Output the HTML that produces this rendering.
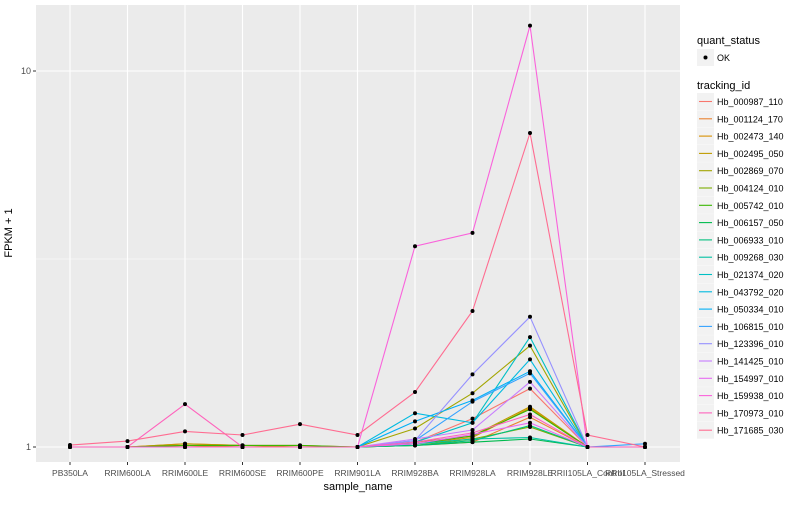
<!DOCTYPE html>
<html><head><meta charset="utf-8"><style>
body{margin:0;background:#fff;font-family:"Liberation Sans",sans-serif}
svg text{font-family:"Liberation Sans",sans-serif}
</style></head><body>
<svg id="chart" width="800" height="500" xmlns="http://www.w3.org/2000/svg">
<rect x="0" y="0" width="800" height="500" fill="#fff"/>
<rect x="36" y="5" width="644" height="457" fill="#ebebeb"/>
<g id="grid"></g>
<g id="lines"></g>
<g id="points"></g>
<g id="axes"></g>
<text x="12" y="233" font-size="11" fill="#000" text-anchor="middle" transform="rotate(-90 12 233)">FPKM + 1</text>
<text x="358" y="490" font-size="11" fill="#000" text-anchor="middle">sample_name</text>
<g id="legend">
<text x="697" y="44" font-size="11" fill="#000">quant_status</text>
<rect x="697" y="49" width="17" height="17" fill="#f2f2f2"/>
<circle cx="705.5" cy="57.5" r="2" fill="#000"/>
<text x="717" y="61" font-size="9" fill="#000">OK</text>
<text x="697" y="89" font-size="11" fill="#000">tracking_id</text>
<g id="legend-items"></g>
</g>
</svg>
<script>
const categories = ["PB350LA","RRIM600LA","RRIM600LE","RRIM600SE","RRIM600PE","RRIM901LA","RRIM928BA","RRIM928LA","RRIM928LE","RRII105LA_Control","RRII105LA_Stressed"];
const seriesIds = ["Hb_000987_110","Hb_001124_170","Hb_002473_140","Hb_002495_050","Hb_002869_070","Hb_004124_010","Hb_005742_010","Hb_006157_050","Hb_006933_010","Hb_009268_030","Hb_021374_020","Hb_043792_020","Hb_050334_010","Hb_106815_010","Hb_123396_010","Hb_141425_010","Hb_154997_010","Hb_159938_010","Hb_170973_010","Hb_171685_030"];
const seriesColors = ["#F8766D","#EA8331","#D89000","#C09B00","#A3A500","#7CAE00","#39B600","#00BB4E","#00BF7D","#00C1A3","#00BFC4","#00BAE0","#00B0F6","#35A2FF","#9590FF","#C77CFF","#E76BF3","#FA62DB","#FF62BC","#FF6C91"];
const seriesValues = [
[1,1,1.01,1,1,1,1.03,1.19,1.43,1,1],
[1,1,1.02,1.01,1.01,1,1.01,1.03,1.20,1,1],
[1,1,1.01,1,1,1,1.02,1.06,1.27,1,1],
[1,1,1.02,1.01,1,1,1.03,1.07,1.28,1,1],
[1,1,1,1,1,1,1.12,1.39,1.86,1,1],
[1,1,1,1,1,1,1.01,1.05,1.13,1,1],
[1,1,1.01,1.01,1.01,1,1.02,1.07,1.26,1,1],
[1,1,1,1,1,1,1.01,1.03,1.05,1,1],
[1,1,1,1,1,1,1.01,1.04,1.14,1,1],
[1,1,1,1,1,1,1.02,1.05,1.06,1,1],
[1,1,1,1,1,1,1.03,1.16,1.96,1,1],
[1,1,1,1,1,1,1.23,1.16,1.71,1,1],
[1,1,1,1,1,1,1.17,1.33,1.59,1,1],
[1,1,1,1,1,1,1.04,1.32,1.57,1,1.02],
[1,1,1,1,1,1,1.04,1.56,2.22,1,1],
[1,1,1,1,1,1,1.05,1.11,1.49,1,1],
[1,1,1,1,1,1,1.02,1.08,1.16,1,1],
[1,1,1,1,1,1,3.42,3.71,13.2,1,1],
[1,1,1.30,1,1,1,1.03,1.09,1.22,1,1],
[1.012,1.037,1.10,1.076,1.15,1.076,1.40,2.30,6.84,1.076,1]
];
const yTicks = [1,10];
const yTickLabels = ["1","10"];
const yMinorTicks = [3.1623];

const NS="http://www.w3.org/2000/svg";
function xScale(i){return 70+i*57.5;}
function yScale(v){return 447-376*Math.log10(v);}
function mk(tag,attrs,parent){const e=document.createElementNS(NS,tag);for(const k in attrs)e.setAttribute(k,attrs[k]);parent.appendChild(e);return e;}
const grid=document.getElementById('grid'),lines=document.getElementById('lines'),pts=document.getElementById('points'),axes=document.getElementById('axes'),leg=document.getElementById('legend-items');

yMinorTicks.forEach(v=>{const l=mk('line',{x1:36,x2:680,y1:yScale(v),y2:yScale(v),stroke:'#fff','stroke-width':0.5},grid);

});
yTicks.forEach((v,i)=>{const l=mk('line',{x1:36,x2:680,y1:yScale(v),y2:yScale(v),stroke:'#fff','stroke-width':1.1},grid);


mk('line',{x1:33,x2:36,y1:yScale(v),y2:yScale(v),stroke:'#333','stroke-width':1},axes);
const t=mk('text',{x:31,y:yScale(v)+3,'font-size':9,fill:'#4d4d4d','text-anchor':'end'},axes);t.textContent=yTickLabels[i];

});
categories.forEach((c,i)=>{const l=mk('line',{x1:xScale(i),x2:xScale(i),y1:5,y2:462,stroke:'#fff','stroke-width':1.1},grid);


mk('line',{x1:xScale(i),x2:xScale(i),y1:462,y2:465,stroke:'#333','stroke-width':1},axes);
const t=mk('text',{x:xScale(i),y:476,'font-size':8.5,fill:'#4d4d4d','text-anchor':'middle'},axes);t.textContent=c;

});

seriesValues.forEach((vals,s)=>{
const d=vals.map((v,i)=>(i?'L':'M')+xScale(i).toFixed(1)+','+yScale(v).toFixed(1)).join(' ');
const p=mk('path',{d:d,fill:'none',stroke:seriesColors[s],'stroke-width':1.1},lines);


vals.forEach((v,i)=>{const c=mk('circle',{cx:xScale(i),cy:yScale(v),r:2,fill:'#000'},pts);

});
const y0=93+s*17.3;
const g=mk('g',{},leg);


mk('rect',{x:697,y:y0,width:17,height:17,fill:'#f2f2f2'},g);
mk('line',{x1:699,x2:712,y1:y0+8.5,y2:y0+8.5,stroke:seriesColors[s],'stroke-width':1.1},g);
const t=mk('text',{x:717,y:y0+12,'font-size':9,fill:'#000'},g);t.textContent=seriesIds[s];
});
</script>
</body></html>
